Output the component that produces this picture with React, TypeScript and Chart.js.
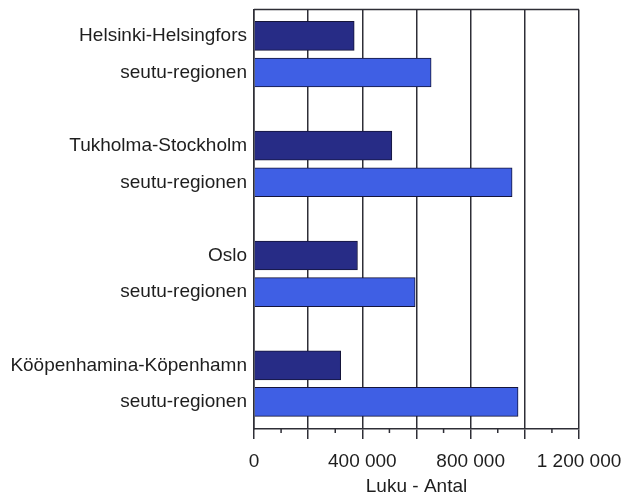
import React, { useEffect, useRef } from "react";
import { Chart, registerables } from "chart.js";

Chart.register(...registerables);

const cityLabels = ["Helsinki-Helsingfors", "Tukholma-Stockholm", "Oslo", "Kööpenhamina-Köpenhamn"];
const regionLabel = "seutu-regionen";
const cityValues = [370000, 509000, 382000, 320000];
const regionValues = [654000, 953000, 595000, 975000];
const xTickStep = 200000;
const xLabelStep = 400000;
const xMax = 1200000;
const axisTitle = "Luku - Antal";

const FONT = "'Liberation Sans', Arial, sans-serif";
const TEXT = "#1e1e1e";
const GRID = "#2e2e36";

// Each city takes a row, its region the next row, then an empty row.
const cityRows = cityLabels.map((_, i) => i * 3);
const regionRows = cityLabels.map((_, i) => i * 3 + 1);
const rowLabels: Record<number, string> = {};
cityRows.forEach((r, i) => (rowLabels[r] = cityLabels[i]));
regionRows.forEach((r) => (rowLabels[r] = regionLabel));
const labelRows = [...cityRows, ...regionRows].sort((a, b) => a - b);

const fmt = (v: number) => String(v).replace(/\B(?=(\d{3})+(?!\d))/g, " ");

const noPad = (scale: any) => {
  scale.paddingLeft = 0;
  scale.paddingRight = 0;
  scale.paddingTop = 0;
  scale.paddingBottom = 0;
};

const framePlugin = {
  id: "frameAndMinor",
  afterDraw(chart: any) {
    const { ctx, chartArea, scales } = chart;
    ctx.save();
    ctx.strokeStyle = GRID;
    ctx.lineWidth = 1.5;
    ctx.beginPath();
    ctx.moveTo(chartArea.left, chartArea.top);
    ctx.lineTo(chartArea.right, chartArea.top);
    for (let v = xTickStep / 2; v < xMax; v += xTickStep) {
      const px = scales.x.getPixelForValue(v);
      ctx.moveTo(px, chartArea.bottom);
      ctx.lineTo(px, chartArea.bottom + 4);
    }
    ctx.stroke();
    ctx.restore();
  },
};

export default function App() {
  const ref = useRef<HTMLCanvasElement>(null);
  useEffect(() => {
    const chart = new Chart(ref.current!, {
      type: "bar",
      data: {
        datasets: [
          {
            label: "city",
            data: cityValues.map((v, i) => ({ x: v, y: cityRows[i] })),
            backgroundColor: "#272c86",
            borderColor: "#15153a",
            borderWidth: 1,
            grouped: false,
            barThickness: 29,
          } as any,
          {
            label: "region",
            data: regionValues.map((v, i) => ({ x: v, y: regionRows[i] })),
            backgroundColor: "#3f5fe4",
            borderColor: "#15153a",
            borderWidth: 1,
            grouped: false,
            barThickness: 29,
          } as any,
        ],
      },
      options: {
        indexAxis: "y",
        animation: false,
        responsive: false,
        devicePixelRatio: 1,
        layout: { padding: { top: 9.5, right: 43, left: 0, bottom: 0 } },
        plugins: { legend: { display: false }, tooltip: { enabled: false } },
        scales: {
          y: {
            type: "linear",
            reverse: true,
            offset: false,
            bounds: "data",
            min: -0.72,
            max: 10.74,
            grid: { display: false, drawTicks: false, offset: false },
            border: { display: true, color: GRID, width: 1.5 },
            afterBuildTicks: (scale: any) => {
              scale.ticks = labelRows.map((v) => ({ value: v }));
            },
            afterFit: (scale: any) => {
              scale.width = 254;
              noPad(scale);
            },
            ticks: {
              padding: 7,
              color: TEXT,
              font: { family: FONT, size: 19 },
              callback: (v: any) => rowLabels[v] ?? "",
            },
          },
          x: {
            type: "linear",
            min: 0,
            max: xMax,
            grid: { color: GRID, lineWidth: 1.5, tickLength: 10, drawTicks: true },
            border: { display: true, color: GRID, width: 1.5 },
            afterFit: (scale: any) => {
              scale.height = 66;
              noPad(scale);
            },
            ticks: {
              stepSize: xTickStep,
              autoSkip: false,
              maxRotation: 0,
              padding: 11,
              color: TEXT,
              font: { family: FONT, size: 19 },
              callback: (v: any) => (Number(v) % xLabelStep === 0 ? fmt(Number(v)) : ""),
            },
            title: {
              display: true,
              text: axisTitle,
              color: TEXT,
              font: { family: FONT, size: 19 },
              padding: { top: 0, bottom: -3 },
            },
          },
        },
      } as any,
      plugins: [framePlugin],
    });
    return () => chart.destroy();
  }, []);
  return (
    <div style={{ position: "fixed", left: 0, top: 0, width: 622, height: 495, background: "#fff" }}>
      <canvas ref={ref} width={622} height={495} />
    </div>
  );
}
